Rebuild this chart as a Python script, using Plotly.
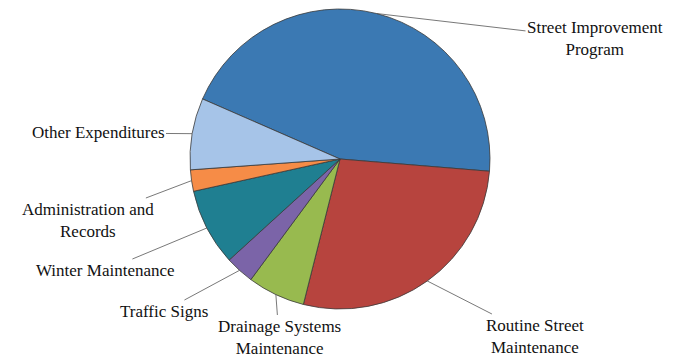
import math
import plotly.graph_objects as go

# ---- data ----
categories = [
    "Street Improvement<br>Program",
    "Routine Street<br>Maintenance",
    "Drainage Systems<br>Maintenance",
    "Traffic Signs",
    "Winter Maintenance",
    "Administration and<br>Records",
    "Other Expenditures",
]
shares = [44.7, 27.6, 6.2, 3.1, 8.3, 2.3, 7.7]
colors = ["#3b79b3", "#b7443e", "#98ba4f", "#7b64a8", "#1f7f91", "#f68c47", "#a6c4e8"]

# ---- layout geometry (pixels; page body has an 8px offset) ----
W, H = 675, 358
OFF = 8
CX, CY, R = 340 - OFF, 159 - OFF, 150
START = 293.6  # clockwise from 12 o'clock, where the first slice starts
# label centres (pixels, in page coordinates)
label_pos = [(595, 39), (535, 336), (279, 337), (164, 311), (106, 270), (88, 220), (98, 133)]

fig = go.Figure(go.Pie(
    labels=[c.replace("<br>", " ") for c in categories],
    values=shares,
    sort=False,
    direction="clockwise",
    rotation=START,
    marker=dict(colors=colors, line=dict(color="#3a3a3a", width=0.8)),
    textinfo="none",
    hoverinfo="label+percent",
    showlegend=False,
    domain=dict(x=[(CX - R) / W, (CX + R) / W], y=[(H - CY - R) / H, (H - CY + R) / H]),
))

total = sum(shares)
cum = 0.0
annotations = []
for cat, v, (lx, ly) in zip(categories, shares, label_pos):
    mid = START + (cum + v / 2) / total * 360
    cum += v
    a = math.radians(mid)
    tx = CX + R * math.sin(a)
    ty = CY - R * math.cos(a)
    annotations.append(dict(
        x=tx / W, y=1 - ty / H, xref="paper", yref="paper",
        text=cat, showarrow=True, arrowhead=0, arrowwidth=0.8, arrowcolor="#555555",
        ax=(lx - OFF) - tx, ay=(ly - OFF) - ty, align="center",
        font=dict(family="Liberation Serif", size=17, color="#111111"),
    ))

fig.update_layout(
    width=W, height=H,
    margin=dict(l=0, r=0, t=0, b=0),
    paper_bgcolor="white", plot_bgcolor="white",
    annotations=annotations,
)

fig.write_html("out.html")
